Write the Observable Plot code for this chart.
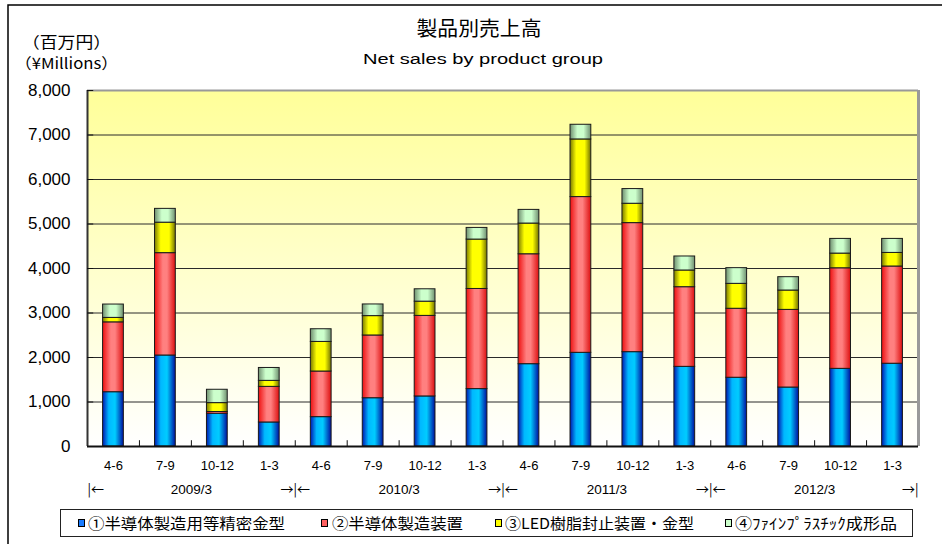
<!DOCTYPE html>
<html><head><meta charset="utf-8">
<script src="https://cdn.jsdelivr.net/npm/d3@7"></script>
<script src="https://cdn.jsdelivr.net/npm/@observablehq/plot@0.6"></script>
<style>body{margin:0;background:#fff}#chart{width:942px;height:544px;overflow:hidden}</style>
</head><body><div id="chart"></div>
<script>
// ---- data ----
const quarters = ["4-6","7-9","10-12","1-3","4-6","7-9","10-12","1-3","4-6","7-9","10-12","1-3","4-6","7-9","10-12","1-3"];
const fiscalYears = ["2009/3","2010/3","2011/3","2012/3"];
const seriesNames = ["①半導体製造用等精密金型","②半導体製造装置","③LED樹脂封止装置・金型","④ﾌｧｲﾝﾌﾟﾗｽﾁｯｸ成形品"];
const moldValues    = [1220, 2045, 735, 540, 660, 1085, 1125, 1290, 1850, 2105, 2120, 1790, 1545, 1325, 1745, 1860];
const equipValues   = [1570, 2300, 40, 800, 1025, 1410, 1810, 2250, 2470, 3500, 2900, 1790, 1550, 1745, 2260, 2185];
const ledValues     = [100, 685, 200, 135, 665, 435, 320, 1110, 690, 1295, 435, 375, 560, 435, 330, 305];
const plasticValues = [300, 310, 300, 290, 285, 262, 278, 262, 307, 330, 330, 315, 353, 300, 330, 315];
const yTicks = [0,1000,2000,3000,4000,5000,6000,7000,8000];
const titleJa = "製品別売上高";
const titleEn = "Net sales by product group";
const unitJa = "（百万円）";
const unitEn = "（¥Millions）";

const seriesValues = [moldValues, equipValues, ledValues, plasticValues];
const data = quarters.flatMap((q, i) => seriesNames.map((s, k) => ({i, quarter: q, series: s, value: seriesValues[k][i]})));
const gradIds = ["gBlue","gRed","gYellow","gGreen"];
const legendColors = ["#1a7cff","#ff6060","#ffff00","#ccffcc"];
const centers = quarters.map((q, i) => i + 0.5);
const bounds = d3.range(fiscalYears.length + 1).map(k => k * 4);

const cjk = "'Noto Sans CJK JP', sans-serif";
const plot = Plot.plot({
  width: 942, height: 544,
  marginTop: 90, marginBottom: 98, marginLeft: 87, marginRight: 24,
  style: {fontFamily: "'Liberation Sans', Arial, sans-serif", background: "#fff", overflow: "visible"},
  x: {domain: [0, quarters.length], axis: null},
  y: {domain: [0, 8000], axis: null},
  color: {domain: seriesNames, range: gradIds.map(id => `url(#${id})`)},
  marks: [
    Plot.frame({fill: "url(#gBg)"}),
    Plot.gridY(yTicks, {stroke: "#2a2a2a", strokeOpacity: 1}),
    Plot.rectY(data, {x1: d => d.i + 0.3, x2: d => d.i + 0.7, y: "value", fill: "series", stroke: "#1a1a1a", strokeWidth: 1}),
    Plot.ruleY([8000], {stroke: "#999", strokeWidth: 2}),
    Plot.ruleX([quarters.length], {stroke: "#999", strokeWidth: 3}),
    Plot.ruleX([0], {stroke: "#333", strokeWidth: 2}),
    Plot.ruleY([0], {stroke: "#111", strokeWidth: 2}),
    Plot.ruleX(d3.range(1, quarters.length), {x: d => d, y1: 0, y2: 130, stroke: "#111"}),
    Plot.ruleY(yTicks.slice(1), {y: d => d, x1: 0, x2: 0.12, stroke: "#111"}),
    Plot.axisY({ticks: yTicks, tickSize: 0, tickPadding: 17, tickFormat: d3.format(","), fontSize: 17, label: null, fill: "#000"}),
    Plot.axisX({ticks: centers, tickSize: 0, tickPadding: 14, tickFormat: d => quarters[Math.floor(d)], fontSize: 13, label: null, fill: "#000"}),
    Plot.text(fiscalYears, {x: (d, i) => i * 4 + 2, y: 0, dy: 43, text: d => d, fontSize: 13.5, fill: "#000"}),
    Plot.text(bounds.slice(0, 1), {x: d => d, y: 0, dy: 43, text: () => "|←", textAnchor: "start", fontSize: 13, fontFamily: cjk}),
    Plot.text(bounds.slice(1, -1), {x: d => d, y: 0, dy: 43, text: () => "→|←", fontSize: 13, fontFamily: cjk}),
    Plot.text(bounds.slice(-1), {x: d => d, y: 0, dy: 43, text: () => "→|", textAnchor: "end", fontSize: 13, fontFamily: cjk})
  ]
});
document.getElementById("chart").append(plot);

const svg = d3.select(plot);
const defs = svg.insert("defs", ":first-child");
function hgrad(id, stops) {
  const g = defs.append("linearGradient").attr("id", id).attr("x1", 0).attr("x2", 1).attr("y1", 0).attr("y2", 0);
  stops.forEach(([o, c]) => g.append("stop").attr("offset", o).attr("stop-color", c));
}
hgrad("gBlue", [[0, "#0018b0"], [0.3, "#00b8ff"], [0.6, "#00ccff"], [1, "#0010a0"]]);
hgrad("gRed", [[0, "#ee1010"], [0.4, "#ff8080"], [0.6, "#ff8080"], [1, "#dd1010"]]);
hgrad("gYellow", [[0, "#7a7a00"], [0.3, "#ffff00"], [0.7, "#ffff00"], [1, "#707000"]]);
hgrad("gGreen", [[0, "#6f8f6f"], [0.35, "#ccffcc"], [0.65, "#ccffcc"], [1, "#6f8f6f"]]);
const bg = defs.append("linearGradient").attr("id", "gBg").attr("x1", 0).attr("x2", 0).attr("y1", 0).attr("y2", 1);
bg.append("stop").attr("offset", 0).attr("stop-color", "#ffff99");
bg.append("stop").attr("offset", 1).attr("stop-color", "#ffffff");

function txt(s, x, y, size, family, len, anchor = "start") {
  const t = svg.append("text").attr("x", x).attr("y", y).attr("font-size", size).attr("font-family", family)
    .attr("text-anchor", anchor).attr("fill", "#000").text(s);
  if (len) t.attr("textLength", len).attr("lengthAdjust", "spacingAndGlyphs");
  return t;
}
txt(titleJa, 479, 36, 20, cjk, 125, "middle");
txt(titleEn, 483, 64, 15.5, "'Liberation Sans', Arial, sans-serif", 240, "middle");
txt(unitJa, 22, 48, 15.5, cjk, 89);
txt(unitEn, 15, 69, 15, cjk, 103);

// legend
svg.append("rect").attr("x", 60.5).attr("y", 509.5).attr("width", 852).attr("height", 27).attr("fill", "#fff").attr("stroke", "#222");
const legX = [[78, 88, 197], [321, 332, 131], [495, 505, 189], [725, 735, 162]];
seriesNames.forEach((s, k) => {
  const [sx, tx, len] = legX[k];
  svg.append("rect").attr("x", sx + 0.5).attr("y", 519.5).attr("width", 6).attr("height", 7).attr("fill", legendColors[k]).attr("stroke", "#000");
  txt(s, tx, 529, 15, cjk, len);
});
// outer frame
svg.append("rect").attr("x", 8).attr("y", 5).attr("width", 960).attr("height", 600).attr("fill", "none").attr("stroke", "#000").attr("stroke-width", 1.5);
</script></body></html>
